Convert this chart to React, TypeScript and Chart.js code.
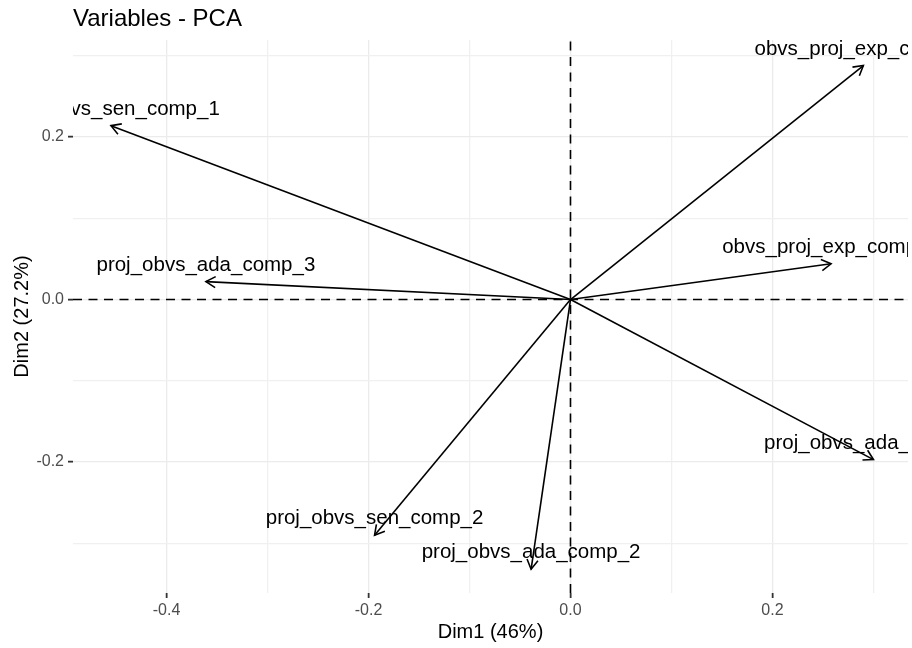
import React, { useEffect, useRef } from "react";
import { Chart, registerables } from "chart.js";

Chart.register(...registerables);

// ---- Data ----
const variables = [
  "proj_obvs_sen_comp_1",
  "obvs_proj_exp_comp_1",
  "obvs_proj_exp_comp_2",
  "proj_obvs_ada_comp_3",
  "proj_obvs_ada_comp_1",
  "proj_obvs_sen_comp_2",
  "proj_obvs_ada_comp_2",
];
const dim1 = [-0.455, 0.290, 0.258, -0.361, 0.300, -0.194, -0.039];
const dim2 = [0.214, 0.288, 0.044, 0.022, -0.197, -0.290, -0.332];

const xTickValues = [-0.4, -0.3, -0.2, -0.1, 0, 0.1, 0.2, 0.3];
const xTickLabels = ["-0.4", "", "-0.2", "", "0.0", "", "0.2", ""];
const yTickValues = [-0.3, -0.2, -0.1, 0, 0.1, 0.2, 0.3];
const yTickLabels = ["", "-0.2", "", "0.0", "", "0.2", ""];

const xRange = [-0.4926, 0.3342];
const yRange = [-0.3612, 0.3194];

const titleText = "Variables - PCA";
const xTitle = "Dim1 (46%)";
const yTitle = "Dim2 (27.2%)";

const FONT = '"Liberation Sans", Arial, Helvetica, sans-serif';

const arrowPlugin = {
  id: "pcaArrows",
  afterDatasetsDraw(chart: any) {
    const { ctx, chartArea, scales } = chart;
    const xs = scales.x;
    const ys = scales.y;
    ctx.save();
    ctx.beginPath();
    ctx.rect(
      chartArea.left,
      chartArea.top,
      chartArea.right - chartArea.left,
      chartArea.bottom - chartArea.top
    );
    ctx.clip();
    const x0 = xs.getPixelForValue(0);
    const y0 = ys.getPixelForValue(0);
    variables.forEach((name, i) => {
      const x1 = xs.getPixelForValue(dim1[i]);
      const y1 = ys.getPixelForValue(dim2[i]);
      const ang = Math.atan2(y1 - y0, x1 - x0);
      const L = 11;
      const A = Math.PI / 6;
      ctx.beginPath();
      ctx.moveTo(x1 - L * Math.cos(ang - A), y1 - L * Math.sin(ang - A));
      ctx.lineTo(x1, y1);
      ctx.lineTo(x1 - L * Math.cos(ang + A), y1 - L * Math.sin(ang + A));
      ctx.strokeStyle = "#000";
      ctx.lineWidth = 1.6;
      ctx.lineJoin = "miter";
      ctx.stroke();
      ctx.font = `20.5px ${FONT}`;
      ctx.fillStyle = "#000";
      ctx.textAlign = "center";
      ctx.textBaseline = "alphabetic";
      ctx.fillText(name, x1, y1 - 11);
    });
    ctx.restore();
  },
  afterDraw(chart: any) {
    const { ctx, chartArea } = chart;
    ctx.save();
    ctx.font = `24px ${FONT}`;
    ctx.fillStyle = "#000";
    ctx.textAlign = "left";
    ctx.textBaseline = "alphabetic";
    ctx.fillText(titleText, chartArea.left, 26);
    ctx.restore();
  },
};

export default function App() {
  const canvasRef = useRef<HTMLCanvasElement | null>(null);

  useEffect(() => {
    document.body.style.margin = "0";
    const canvas = canvasRef.current;
    if (!canvas) return;

    const lineStyle = {
      showLine: true,
      pointRadius: 0,
      pointHoverRadius: 0,
      borderColor: "#000",
      fill: false,
    };

    const datasets: any[] = [
      {
        ...lineStyle,
        data: [
          { x: xRange[0], y: 0 },
          { x: xRange[1], y: 0 },
        ],
        borderWidth: 1.6,
        borderDash: [9, 6.5],
      },
      {
        ...lineStyle,
        data: [
          { x: 0, y: yRange[0] },
          { x: 0, y: yRange[1] },
        ],
        borderWidth: 1.6,
        borderDash: [9, 6.5],
      },
      ...variables.map((name, i) => ({
        ...lineStyle,
        label: name,
        data: [
          { x: 0, y: 0 },
          { x: dim1[i], y: dim2[i] },
        ],
        borderWidth: 1.6,
      })),
    ];

    const gridColor = (c: any) =>
      c.index % 2 === (c.scale.axis === "x" ? 0 : 1) ? "#EBEBEB" : "#F0F0F0";

    const chart = new Chart(canvas, {
      type: "scatter",
      data: { datasets },
      options: {
        animation: false,
        responsive: false,
        events: [],
        layout: { padding: { top: 40, right: 4, bottom: 0, left: 0 } },
        plugins: {
          legend: { display: false },
          tooltip: { enabled: false },
          title: { display: false },
        },
        scales: {
          x: {
            type: "linear",
            min: xRange[0],
            max: xRange[1],
            afterBuildTicks: (scale: any) => {
              scale.ticks = xTickValues.map((v) => ({ value: v }));
            },
            afterFit: (scale: any) => {
              scale.height = 55;
            },
            border: { display: false },
            grid: {
              color: gridColor,
              lineWidth: 1.3,
              drawTicks: true,
              tickLength: 5,
              tickWidth: 1.8,
              tickColor: (c: any) => (c.index % 2 === 0 ? "#333333" : "rgba(0,0,0,0)"),
            },
            ticks: {
              autoSkip: false,
              maxRotation: 0,
              padding: 3,
              color: "#4D4D4D",
              font: { size: 16, family: FONT },
              callback: (_v: any, i: number) => xTickLabels[i],
            },
            title: {
              display: true,
              text: xTitle,
              color: "#000",
              font: { size: 20, family: FONT },
              padding: { top: 4, bottom: 4 },
            },
          },
          y: {
            type: "linear",
            min: yRange[0],
            max: yRange[1],
            afterBuildTicks: (scale: any) => {
              scale.ticks = yTickValues.map((v) => ({ value: v }));
            },
            afterFit: (scale: any) => {
              scale.width = 73;
            },
            border: { display: false },
            grid: {
              color: gridColor,
              lineWidth: 1.3,
              drawTicks: true,
              tickLength: 5,
              tickWidth: 1.8,
              tickColor: (c: any) => (c.index % 2 === 1 ? "#333333" : "rgba(0,0,0,0)"),
            },
            ticks: {
              autoSkip: false,
              padding: 4,
              color: "#4D4D4D",
              font: { size: 16, family: FONT },
              callback: (_v: any, i: number) => yTickLabels[i],
            },
            title: {
              display: true,
              text: yTitle,
              color: "#000",
              font: { size: 20, family: FONT },
              padding: { top: 10, bottom: 4 },
            },
          },
        },
      },
      plugins: [arrowPlugin],
    });

    return () => chart.destroy();
  }, []);

  return (
    <div style={{ width: 912, height: 648 }}>
      <canvas ref={canvasRef} width={912} height={648} />
    </div>
  );
}
